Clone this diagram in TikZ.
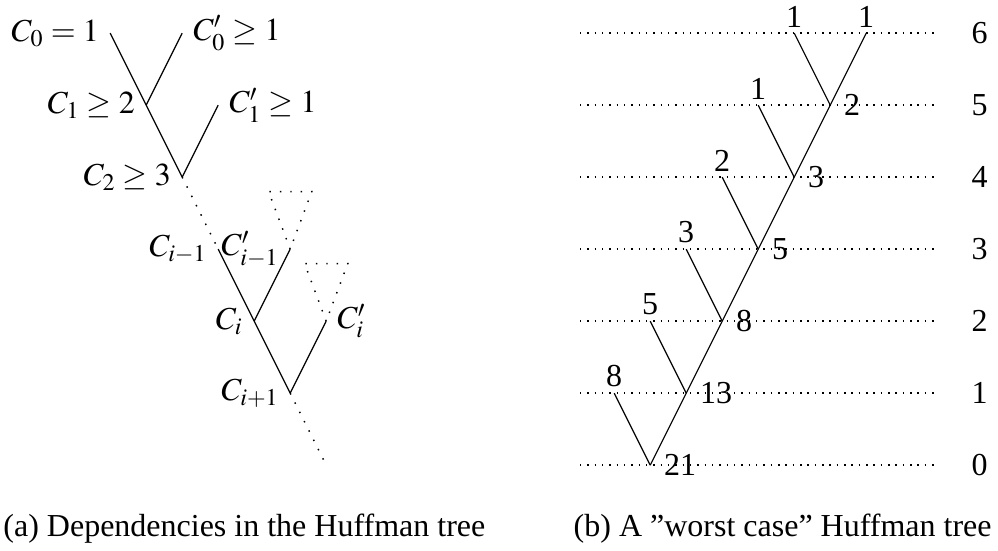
\documentclass[tikz,border=0pt,12pt]{standalone}
\usepackage{mathptmx}
\usepackage{fontspec}
\setmainfont{Liberation Serif}
\usepackage{tikz}
\usetikzlibrary{positioning}
\tikzset{
  edge/.style={line width=0.45pt},
  dotline/.style={line width=0.55pt, dash pattern=on 0.55pt off 3.35pt},
  lvlline/.style={line width=0.55pt, dash pattern=on 0.55pt off 2.2pt},
  wlab/.style={inner sep=5pt},
  leaflab/.style={inner sep=2pt},
  captxt/.style={anchor=base west, inner sep=0pt},
}

\begin{document}
\begin{tikzpicture}[x=13.5pt, y=13.5pt]
    \useasboundingbox (0,0) rectangle (27.72,-15.28);
    % (a) dependencies
    \coordinate (c0) at (3.06,-0.92);
    \coordinate (c1) at (4.06,-2.92);
    \coordinate (c2) at (5.06,-4.92);
    \coordinate (cim) at (6.06,-6.92);
    \coordinate (ci) at (7.06,-8.92);
    \coordinate (cip) at (8.06,-10.92);
    \coordinate (cend) at (9.06,-12.92);
    \coordinate (c0p) at (5.06,-0.92);
    \coordinate (c1p) at (6.06,-2.92);
    \coordinate (cimp) at (8.06,-6.92);
    \coordinate (cipr) at (9.06,-8.92);
    \coordinate (ta1) at (7.46,-5.32);
    \coordinate (ta2) at (8.66,-5.32);
    \coordinate (tb1) at (8.46,-7.32);
    \coordinate (tb2) at (9.66,-7.32);
    \draw[edge] (c0) -- (c1) -- (c2);
    \draw[edge] (c0p) -- (c1);
    \draw[edge] (c1p) -- (c2);
    \draw[dotline] (c2) -- (cim);
    \draw[edge] (cim) -- (ci) -- (cip);
    \draw[edge] (cimp) -- (ci);
    \draw[edge] (cipr) -- (cip);
    \draw[dotline] (cip) -- (cend);
    \draw[dotline] (cimp) -- (ta1) -- (ta2) -- cycle;
    \draw[dotline] (cipr) -- (tb1) -- (tb2) -- cycle;
    \node[left] (lc0) at (c0) {$C_0 = 1$};
    \node[right] (lc0p) at (c0p) {$C'_0 \geq 1$};
    \node[left] (lc1) at (c1) {$C_1 \geq 2$};
    \node[right] (lc1p) at (c1p) {$C'_1 \geq 1$};
    \node[left] (lc2) at (c2) {$C_2 \geq 3$};
    \node[left] (lcim) at (cim) {$C_{i-1}$};
    \node[left] (lcimp) at (cimp) {$C'_{i-1}$};
    \node[left] (lci) at (ci) {$C_i$};
    \node[right] (lcipr) at (cipr) {$C'_i$};
    \node[left] (lcip) at (cip) {$C_{i+1}$};

    % (b) worst case tree, levels
    \coordinate (s6) at (16.11,-0.92);  \coordinate (e6) at (26.08,-0.92);
    \coordinate (s5) at (16.11,-2.92);  \coordinate (e5) at (26.08,-2.92);
    \coordinate (s4) at (16.11,-4.92);  \coordinate (e4) at (26.08,-4.92);
    \coordinate (s3) at (16.11,-6.92);  \coordinate (e3) at (26.08,-6.92);
    \coordinate (s2) at (16.11,-8.92);  \coordinate (e2) at (26.08,-8.92);
    \coordinate (s1) at (16.11,-10.92); \coordinate (e1) at (26.08,-10.92);
    \coordinate (s0) at (16.11,-12.92); \coordinate (e0) at (26.08,-12.92);
    \draw[lvlline] (s6) -- (e6); \draw[lvlline] (s5) -- (e5);
    \draw[lvlline] (s4) -- (e4); \draw[lvlline] (s3) -- (e3);
    \draw[lvlline] (s2) -- (e2); \draw[lvlline] (s1) -- (e1);
    \draw[lvlline] (s0) -- (e0);
    \node[right=8pt of e6] (n6) {6};
    \node[right=8pt of e5] (n5) {5};
    \node[right=8pt of e4] (n4) {4};
    \node[right=8pt of e3] (n3) {3};
    \node[right=8pt of e2] (n2) {2};
    \node[right=8pt of e1] (n1) {1};
    \node[right=8pt of e0] (n0) {0};

    \coordinate (r) at (18.06,-12.92);
    \coordinate (j1) at (19.06,-10.92);
    \coordinate (j2) at (20.06,-8.92);
    \coordinate (j3) at (21.06,-6.92);
    \coordinate (j4) at (22.06,-4.92);
    \coordinate (j5) at (23.06,-2.92);
    \coordinate (f8) at (17.06,-10.92);
    \coordinate (f5) at (18.06,-8.92);
    \coordinate (f3) at (19.06,-6.92);
    \coordinate (f2) at (20.06,-4.92);
    \coordinate (f1a) at (21.06,-2.92);
    \coordinate (f1b) at (22.06,-0.92);
    \coordinate (f1c) at (24.06,-0.92);
    \draw[edge] (r) -- (j1) -- (j2) -- (j3) -- (j4) -- (j5) -- (f1c);
    \draw[edge] (f8) -- (r);
    \draw[edge] (f5) -- (j1);
    \draw[edge] (f3) -- (j2);
    \draw[edge] (f2) -- (j3);
    \draw[edge] (f1a) -- (j4);
    \draw[edge] (f1b) -- (j5);
    \node[right, wlab] (wr) at (r) {21};
    \node[right, wlab] (wj1) at (j1) {13};
    \node[right, wlab] (wj2) at (j2) {8};
    \node[right, wlab] (wj3) at (j3) {5};
    \node[right, wlab] (wj4) at (j4) {3};
    \node[right, wlab] (wj5) at (j5) {2};
    \node[above, leaflab] (wf8) at (f8) {8};
    \node[above, leaflab] (wf5) at (f5) {5};
    \node[above, leaflab] (wf3) at (f3) {3};
    \node[above, leaflab] (wf2) at (f2) {2};
    \node[above, leaflab] (wf1a) at (f1a) {1};
    \node[above, leaflab] (wf1b) at (f1b) {1};
    \node[above, leaflab] (wf1c) at (f1c) {1};

    % captions
    \node[captxt] (capa) at (0.08,-14.89) {(a) Dependencies in the Huffman tree};
    \node[captxt] (capb) at (15.92,-14.89) {(b) A ''worst case'' Huffman tree};
\end{tikzpicture}
\end{document}
